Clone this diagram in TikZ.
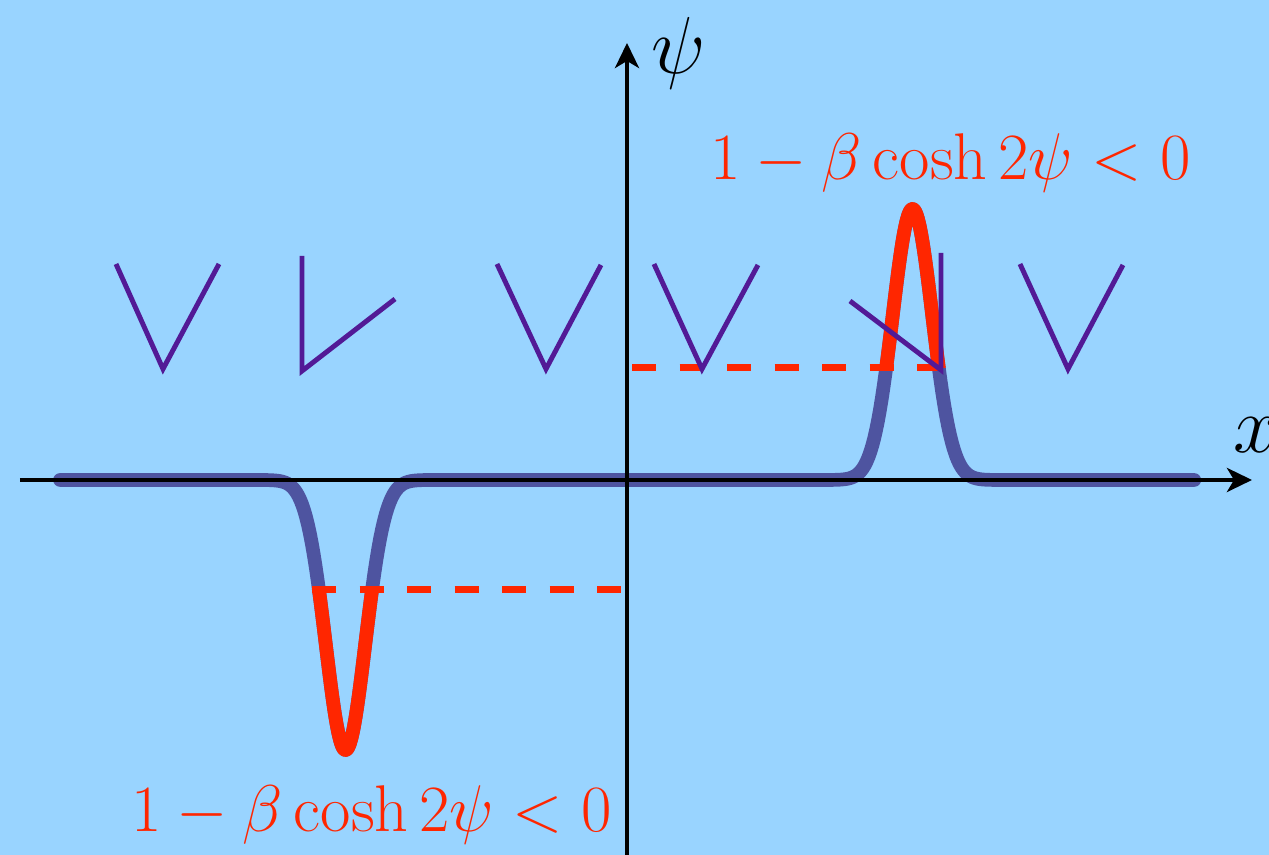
\RequirePackage{fix-cm}
\documentclass[tikz,border=0pt]{standalone}
\usetikzlibrary{arrows.meta}

\definecolor{skyback}{RGB}{153,212,255}
\definecolor{kinkred}{RGB}{255,38,0}
\definecolor{kinkblue}{RGB}{78,84,160}
\definecolor{spinviolet}{RGB}{82,26,150}

\tikzset{
	axis/.style={line width=1.2pt, -{Stealth[length=0.25cm, width=0.24cm, inset=0.07cm]}},
	kink/.style={line width=3.9pt, line cap=round, line join=round},
	spin/.style={line width=1.4pt, spinviolet},
	level/.style={line width=2pt, kinkred, dash pattern=on 0.24cm off 0.235cm},
	bigmath/.style={font=\fontsize{18.8}{22}\selectfont, text=kinkred, inner sep=0pt, anchor=base west}
}

\begin{document}
\begin{tikzpicture}
		% Background
		\useasboundingbox (0,0) rectangle (12.69,8.55);
		\fill[skyback] (0,0) rectangle (12.69,8.55);
		
		% Field profile
		\def\prof{3.75 - 2.70*exp(-((\x-3.455)/0.28)^2) + 2.71*exp(-((\x-9.125)/0.28)^2)}
		\draw[kink, kinkblue] plot[domain=0.6:11.95, samples=600] (\x, {\prof});
		
		% Parts where the condition holds
		\begin{scope}
			\clip (0,0) rectangle (12.69,2.65);
			\draw[kink, kinkred] plot[domain=2.8:4.1, samples=200] (\x, {\prof});
		\end{scope}
		\begin{scope}
			\clip (0,4.87) rectangle (12.69,8.55);
			\draw[kink, kinkred] plot[domain=8.5:9.8, samples=200] (\x, {\prof});
		\end{scope}
		
		% Levels
		\coordinate (lowL) at (3.12,2.65);
		\coordinate (lowR) at (6.24,2.65);
		\coordinate (highL) at (6.32,4.87);
		\coordinate (highR) at (9.41,4.87);
		\draw[level] (lowL) -- (lowR);
		\draw[level] (highL) -- (highR);
		
		% Axes
		\coordinate (xstart) at (0.2,3.75);
		\coordinate (xend) at (12.52,3.75);
		\coordinate (ystart) at (6.27,0);
		\coordinate (yend) at (6.27,8.12);
		\draw[axis] (xstart) -- (xend);
		\draw[axis] (ystart) -- (yend);
		\node[font=\fontsize{23}{27}\selectfont] (psilabel) at (6.79,8.02) {$\psi$};
		\node[font=\fontsize{23}{27}\selectfont, anchor=west, inner sep=0pt] (xlabel) at (12.33,4.2) {$x$};
		
		% Spins
		\draw[spin] (1.16,5.91) -- (1.63,4.86) -- (2.19,5.91);
		\draw[spin] (3.02,5.99) -- (3.02,4.84) -- (3.95,5.56);
		\draw[spin] (4.97,5.91) -- (5.46,4.86) -- (6.01,5.90);
		\draw[spin] (6.54,5.91) -- (7.02,4.86) -- (7.58,5.90);
		\draw[spin] (8.50,5.54) -- (9.41,4.85) -- (9.41,6.02);
		\draw[spin] (10.20,5.91) -- (10.68,4.86) -- (11.23,5.90);
		
		% Conditions
		\node[bigmath] (condhigh) at (7.10,6.75) {$1-\beta\cosh 2\psi<0$};
		\node[bigmath] (condlow) at (1.31,0.23) {$1-\beta\cosh 2\psi<0$};
		
\end{tikzpicture}
\end{document}
